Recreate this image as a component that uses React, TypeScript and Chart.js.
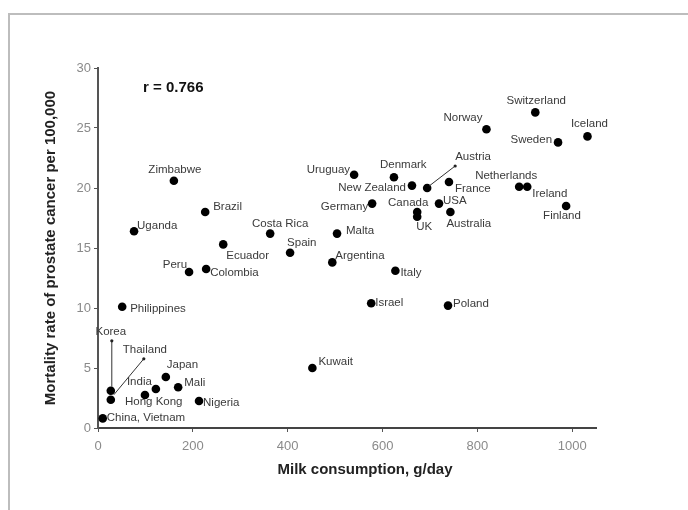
import React, { useEffect, useRef } from 'react';
import { Chart, registerables } from 'chart.js';

Chart.register(...registerables);

// ---- data ----
const countries = [
  'Switzerland', 'Norway', 'Iceland', 'Sweden', 'Denmark', 'New Zealand', 'Austria', 'France',
  'Netherlands', 'Ireland', 'Finland', 'Canada', 'UK', 'USA', 'Australia', 'Uruguay', 'Germany',
  'Malta', 'Costa Rica', 'Spain', 'Ecuador', 'Argentina', 'Peru', 'Colombia', 'Brazil', 'Zimbabwe',
  'Uganda', 'Philippines', 'Israel', 'Italy', 'Poland', 'Kuwait', 'Japan', 'India', 'Mali',
  'Hong Kong', 'Nigeria', 'China, Vietnam', 'Korea', 'Thailand',
];
const milkConsumption = [
  922, 819, 1032, 970, 624, 662, 694, 740,
  888, 905, 987, 673, 673, 719, 743, 540, 578,
  504, 363, 405, 264, 494, 192, 228, 226, 160,
  76, 51, 576, 627, 738, 452, 143, 122, 169,
  99, 213, 10, 27, 27,
];
const prostateMortality = [
  26.3, 24.9, 24.3, 23.8, 20.9, 20.2, 20.0, 20.5,
  20.1, 20.1, 18.5, 18.0, 17.6, 18.7, 18.0, 21.1, 18.7,
  16.2, 16.2, 14.6, 15.3, 13.8, 13.0, 13.25, 18.0, 20.6,
  16.4, 10.1, 10.4, 13.1, 10.2, 5.0, 4.25, 3.25, 3.4,
  2.75, 2.25, 0.8, 3.1, 2.35,
];
const xTickValues = [0, 200, 400, 600, 800, 1000];
const yTickValues = [0, 5, 10, 15, 20, 25, 30];
const correlationText = 'r = 0.766';
const xAxisTitle = 'Milk consumption, g/day';
const yAxisTitle = 'Mortality rate of prostate cancer per 100,000';

// ---- label placement (style only): [dx, dy, align] relative to the point ----
const labelPlacement: Record<string, [number, number, CanvasTextAlign]> = {
  'Switzerland': [1, -12, 'center'],
  'Norway': [-4, -11, 'right'],
  'Iceland': [2, -13, 'center'],
  'Sweden': [-6, -3, 'right'],
  'Denmark': [-14, -12, 'left'],
  'New Zealand': [-6, 2, 'right'],
  'Austria': [28, -31, 'left'],
  'France': [6, 7, 'left'],
  'Netherlands': [-13, -11, 'center'],
  'Ireland': [5, 7, 'left'],
  'Finland': [-23, 10, 'left'],
  'Canada': [-9, -9, 'center'],
  'UK': [-1, 10, 'left'],
  'USA': [4, -3, 'left'],
  'Australia': [-4, 12, 'left'],
  'Uruguay': [-4, -5, 'right'],
  'Germany': [-4, 3, 'right'],
  'Malta': [9, -3, 'left'],
  'Costa Rica': [10, -10, 'center'],
  'Spain': [-3, -10, 'left'],
  'Ecuador': [3, 11, 'left'],
  'Argentina': [3, -7, 'left'],
  'Peru': [-2, -7, 'right'],
  'Colombia': [4, 4, 'left'],
  'Brazil': [8, -5, 'left'],
  'Zimbabwe': [1, -11, 'center'],
  'Uganda': [3, -5, 'left'],
  'Philippines': [8, 2, 'left'],
  'Israel': [4, 0, 'left'],
  'Italy': [5, 2, 'left'],
  'Poland': [5, -2, 'left'],
  'Kuwait': [6, -6, 'left'],
  'Japan': [1, -12, 'left'],
  'India': [-4, -7, 'right'],
  'Mali': [6, -4, 'left'],
  'Hong Kong': [-20, 7, 'left'],
  'Nigeria': [4, 2, 'left'],
  'China, Vietnam': [4, -1, 'left'],
  'Korea': [0, -59, 'center'],
  'Thailand': [12, -50, 'left'],
};
// leader lines: [fromDx, fromDy, toDx, toDy] relative to the point
const leaderLines: Record<string, [number, number, number, number]> = {
  'Austria': [2, -2, 28, -22],
  'Korea': [1, -4, 1, -50],
  'Thailand': [3, -5, 33, -41],
};

const FONT = '"Liberation Sans", Arial, sans-serif';

const decorPlugin = {
  id: 'decor',
  beforeDraw(chart: any) {
    const ctx = chart.ctx;
    ctx.save();
    ctx.fillStyle = '#ffffff';
    ctx.fillRect(0, 0, chart.width, chart.height);
    ctx.strokeStyle = '#bdbdbd';
    ctx.lineWidth = 2;
    ctx.strokeRect(9, 14, chart.width + 20, chart.height + 20);
    ctx.restore();
  },
  afterDraw(chart: any) {
    const ctx = chart.ctx;
    const area = chart.chartArea;
    ctx.save();
    // axis titles
    ctx.fillStyle = '#222';
    ctx.font = `bold 15px ${FONT}`;
    ctx.textAlign = 'center';
    ctx.textBaseline = 'middle';
    ctx.fillText(xAxisTitle, 365, 470);
    ctx.save();
    ctx.translate(51, (area.top + area.bottom) / 2);
    ctx.rotate(-Math.PI / 2);
    ctx.fillText(yAxisTitle, 0, 0);
    ctx.restore();
    // correlation
    ctx.fillStyle = '#111';
    ctx.textAlign = 'left';
    ctx.fillText(correlationText, 143, 88);

    // point labels and leader lines
    const meta = chart.getDatasetMeta(0);
    ctx.font = `11.5px ${FONT}`;
    meta.data.forEach((el: any, i: number) => {
      const name = countries[i];
      const ll = leaderLines[name];
      if (ll) {
        ctx.strokeStyle = '#333';
        ctx.lineWidth = 1;
        ctx.beginPath();
        ctx.moveTo(el.x + ll[0], el.y + ll[1]);
        ctx.lineTo(el.x + ll[2], el.y + ll[3]);
        ctx.stroke();
        ctx.fillStyle = '#222';
        ctx.beginPath();
        ctx.arc(el.x + ll[2], el.y + ll[3], 1.6, 0, Math.PI * 2);
        ctx.fill();
      }
      const p = labelPlacement[name] || [5, 0, 'left'];
      ctx.fillStyle = '#3a3a3a';
      ctx.textAlign = p[2];
      ctx.textBaseline = 'middle';
      ctx.fillText(name, el.x + p[0], el.y + p[1]);
    });
    ctx.restore();
  },
};

export default function App() {
  const ref = useRef<HTMLCanvasElement>(null);
  useEffect(() => {
    const points = milkConsumption.map((x, i) => ({ x, y: prostateMortality[i] }));
    const chart = new Chart(ref.current!, {
      type: 'scatter',
      data: {
        datasets: [
          {
            label: 'Countries',
            data: points,
            backgroundColor: '#000',
            borderColor: '#000',
            pointRadius: 4.3,
            pointBorderWidth: 0,
          },
        ],
      },
      options: {
        responsive: false,
        animation: false,
        devicePixelRatio: 1,
        layout: { padding: { left: 0, top: 68, right: 92, bottom: 0 } },
        plugins: { legend: { display: false }, tooltip: { enabled: false }, title: { display: false } },
        scales: {
          x: {
            type: 'linear',
            min: 0,
            max: 1050,
            afterBuildTicks: (scale: any) => {
              scale.ticks = xTickValues.map((v) => ({ value: v }));
            },
            afterFit: (scale: any) => {
              scale.height = 82;
            },
            grid: { drawOnChartArea: false, drawTicks: true, tickLength: 4, color: '#555', lineWidth: 1 },
            border: { display: true, color: '#444', width: 2 },
            ticks: {
              color: '#8a8a8a',
              font: { size: 13, family: FONT },
              padding: 7,
              maxRotation: 0,
              callback: (v: any) => String(v),
            },
            title: { display: false },
          },
          y: {
            type: 'linear',
            min: 0,
            max: 30,
            afterBuildTicks: (scale: any) => {
              scale.ticks = yTickValues.map((v) => ({ value: v }));
            },
            afterFit: (scale: any) => {
              scale.width = 98;
            },
            grid: { drawOnChartArea: false, drawTicks: true, tickLength: 4, color: '#555', lineWidth: 1 },
            border: { display: true, color: '#555', width: 2 },
            ticks: { color: '#8a8a8a', font: { size: 13, family: FONT }, padding: 3, callback: (v: any) => String(v) },
            title: { display: false },
          },
        },
      },
      plugins: [decorPlugin],
    });
    return () => chart.destroy();
  }, []);
  return (
    <div style={{ position: 'fixed', left: 0, top: 0, width: 688, height: 510, background: '#fff' }}>
      <canvas ref={ref} width={688} height={510} style={{ display: 'block', width: 688, height: 510 }} />
    </div>
  );
}
